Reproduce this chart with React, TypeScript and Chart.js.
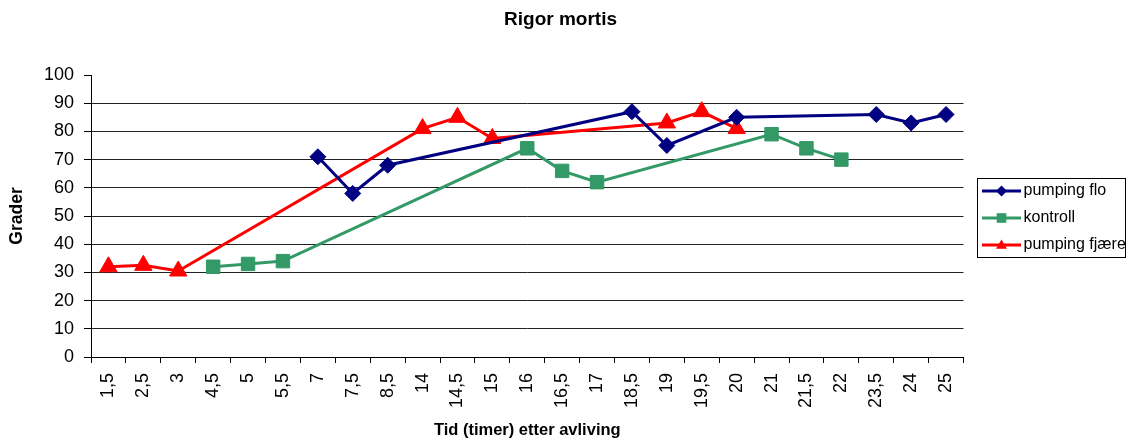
import React, { useEffect, useRef } from 'react';
import { Chart, registerables } from 'chart.js';

Chart.register(...registerables);

const CHART_TITLE = 'Rigor mortis';
const X_TITLE = 'Tid (timer) etter avliving';
const Y_TITLE = 'Grader';

const categories = ['1,5', '2,5', '3', '4,5', '5', '5,5', '7', '7,5', '8,5', '14', '14,5', '15', '16', '16,5', '17', '18,5', '19', '19,5', '20', '21', '21,5', '22', '23,5', '24', '25'];

const pumpingFlo = [null, null, null, null, null, null, 71, 58, 68, null, null, null, null, null, null, 87, 75, null, 85, null, null, null, 86, 83, 86];
const kontroll = [null, null, null, 32, 33, 34, null, null, null, null, null, null, 74, 66, 62, null, null, null, null, 79, 74, 70, null, null, null];
const pumpingFjaere = [32, 32.5, 30.5, null, null, null, null, null, null, 81, 85, 77.5, null, null, null, null, 83, 87, 81, null, null, null, null, null, null];

const FONT = "'Liberation Sans', Arial, Helvetica, sans-serif";

function drawMarker(ctx: CanvasRenderingContext2D, style: string, x: number, y: number, color: string, r: number) {
  ctx.fillStyle = color;
  ctx.beginPath();
  if (style === 'rectRot') {
    ctx.moveTo(x - r, y);
    ctx.lineTo(x, y - r);
    ctx.lineTo(x + r, y);
    ctx.lineTo(x, y + r);
  } else if (style === 'rect') {
    const s = r * 0.8;
    ctx.rect(x - s, y - s, 2 * s, 2 * s);
  } else {
    ctx.moveTo(x, y - r);
    ctx.lineTo(x + r, y + r * 0.7);
    ctx.lineTo(x - r, y + r * 0.7);
  }
  ctx.closePath();
  ctx.fill();
}

const titlePlugin = {
  id: 'customTitle',
  afterDraw(chart: any) {
    const ctx = chart.ctx as CanvasRenderingContext2D;
    ctx.save();
    ctx.fillStyle = '#000';
    ctx.font = `bold 19px ${FONT}`;
    ctx.textAlign = 'center';
    ctx.textBaseline = 'middle';
    ctx.fillText(CHART_TITLE, 560.5, 20);
    ctx.restore();
  },
};

const legendPlugin = {
  id: 'boxLegend',
  afterDraw(chart: any) {
    const ctx = chart.ctx as CanvasRenderingContext2D;
    ctx.save();
    ctx.strokeStyle = '#000';
    ctx.lineWidth = 1;
    ctx.strokeRect(977.5, 178.5, 148, 79);
    chart.data.datasets.forEach((ds: any, i: number) => {
      const cy = 191 + i * 27;
      ctx.strokeStyle = ds.borderColor;
      ctx.lineWidth = 3;
      ctx.beginPath();
      ctx.moveTo(982, cy);
      ctx.lineTo(1021, cy);
      ctx.stroke();
      drawMarker(ctx, ds.pointStyle, 1001.5, cy, ds.borderColor, ds.pointStyle === 'rect' ? 6 : 5.5);
      ctx.fillStyle = '#000';
      ctx.font = `16px ${FONT}`;
      ctx.textAlign = 'left';
      ctx.textBaseline = 'middle';
      ctx.fillText(ds.label, 1023.5, cy);
    });
    ctx.restore();
  },
};

export default function App() {
  const ref = useRef<HTMLCanvasElement>(null);

  useEffect(() => {
    document.body.style.margin = '0';
    const chart = new Chart(ref.current as HTMLCanvasElement, {
      type: 'line',
      data: {
        labels: categories,
        datasets: [
          {
            label: 'pumping flo',
            data: pumpingFlo,
            borderColor: '#000080',
            backgroundColor: '#000080',
            pointStyle: 'rectRot',
            pointRadius: 8,
            pointBorderWidth: 1,
            borderWidth: 3,
            spanGaps: true,
            tension: 0,
          },
          {
            label: 'kontroll',
            data: kontroll,
            borderColor: '#339966',
            backgroundColor: '#339966',
            pointStyle: 'rect',
            pointRadius: 9.5,
            pointBorderWidth: 1,
            borderWidth: 3,
            spanGaps: true,
            tension: 0,
          },
          {
            label: 'pumping fjære',
            data: pumpingFjaere,
            borderColor: '#FF0000',
            backgroundColor: '#FF0000',
            pointStyle: 'triangle',
            pointRadius: 10,
            pointBorderWidth: 1,
            borderWidth: 3,
            spanGaps: true,
            tension: 0,
          },
        ],
      },
      options: {
        animation: false,
        responsive: false,
        layout: { padding: { top: 75, right: 168.5, left: 0, bottom: 0 } },
        plugins: {
          legend: { display: false },
          title: { display: false },
          tooltip: { enabled: false },
        },
        scales: {
          x: {
            type: 'category',
            offset: true,
            grid: {
              offset: true,
              drawOnChartArea: false,
              drawTicks: true,
              tickLength: 6,
              color: '#000',
            },
            border: { color: '#000', width: 1 },
            ticks: {
              autoSkip: false,
              minRotation: 90,
              maxRotation: 90,
              color: '#000',
              font: { family: FONT, size: 18 },
              padding: 10,
            },
            title: {
              display: true,
              text: X_TITLE,
              color: '#000',
              font: { family: FONT, size: 16.5, weight: 'bold' },
              padding: { top: 0, bottom: 1 },
            },
            afterFit: (s: any) => {
              s.height = 84;
            },
          },
          y: {
            min: 0,
            max: 100,
            ticks: {
              stepSize: 10,
              color: '#000',
              font: { family: FONT, size: 18 },
              padding: 10,
            },
            grid: {
              color: (c: any) => (c.tick && c.tick.value === 100 ? 'rgba(0,0,0,0)' : '#222'),
              tickColor: '#000',
              tickLength: 7,
              lineWidth: 1,
            },
            border: { color: '#000', width: 1 },
            title: {
              display: true,
              text: Y_TITLE,
              color: '#000',
              font: { family: FONT, size: 17.5, weight: 'bold' },
              padding: { top: 6.5, bottom: 0 },
            },
            afterFit: (s: any) => {
              s.width = 91;
            },
          },
        },
      } as any,
      plugins: [titlePlugin, legendPlugin],
    });
    return () => chart.destroy();
  }, []);

  return (
    <div style={{ position: 'absolute', left: 0, top: 0, width: 1132, height: 441 }}>
      <canvas ref={ref} width={1132} height={441} style={{ display: 'block' }} />
    </div>
  );
}
